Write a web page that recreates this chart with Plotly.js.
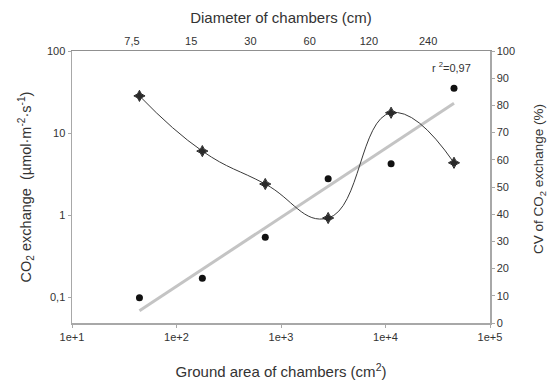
<!DOCTYPE html>
<html>
<head>
<meta charset="utf-8">
<script src="https://cdn.plot.ly/plotly-3.0.1.min.js"></script>
<style>html,body{margin:0;padding:0;background:#fff;}#chart{width:551px;height:381px;}</style>
</head>
<body>
<div id="chart"></div>
<script>
// Ground area of chambers (cm²) and matching diameters (cm)
const areas = [44.2, 176.7, 706.9, 2827, 11310, 45239];
const diameters = [7.5, 15, 30, 60, 120, 240];
const diameterLabels = ['7,5', '15', '30', '60', '120', '240'];
// CO2 exchange (µmol m-2 s-1), left log axis
const co2Exchange = [0.098, 0.169, 0.534, 2.77, 4.22, 35.1];
// CV of CO2 exchange (%), right axis
const cvExchange = [83.5, 63.2, 51.1, 38.6, 77.3, 58.9];
// Regression line end points
const trendX = [44.2, 45239];
const trendY = [0.068, 23.0];
// Axis tick labels
const xTickVals = [10, 100, 1000, 10000, 100000];
const xTickText = ['1e+1', '1e+2', '1e+3', '1e+4', '1e+5'];
const yTickVals = [0.1, 1, 10, 100];
const yTickText = ['0,1', '1', '10', '100'];
const y2TickVals = [0, 10, 20, 30, 40, 50, 60, 70, 80, 90, 100];

const font = 'Liberation Sans, Arial, sans-serif';
const txt = '#333333';
const axCol = '#a8a8a8';

const traces = [
  {x: trendX, y: trendY, xaxis: 'x', yaxis: 'y', mode: 'lines',
   line: {color: '#c4c4c4', width: 3}, hoverinfo: 'skip', showlegend: false},
  {x: areas, y: cvExchange, xaxis: 'x', yaxis: 'y2', mode: 'lines+markers',
   line: {color: '#3a3a3a', width: 1, shape: 'spline', smoothing: 1.3},
   marker: {symbol: 'star-diamond', size: 8, color: '#2a2a2a', line: {color: '#2a2a2a', width: 1}}, showlegend: false},
  {x: areas, y: co2Exchange, xaxis: 'x', yaxis: 'y', mode: 'markers',
   marker: {symbol: 'circle', size: 7, color: '#111'}, showlegend: false},
  {x: diameters, y: cvExchange, xaxis: 'x2', yaxis: 'y2', mode: 'markers',
   marker: {opacity: 0}, hoverinfo: 'skip', showlegend: false}
];

const layout = {
  width: 551, height: 381,
  margin: {l: 72, r: 61, t: 51, b: 58},
  paper_bgcolor: '#fff', plot_bgcolor: '#fff',
  font: {family: font, size: 11, color: txt},
  xaxis: {type: 'log', range: [1, 5], tickvals: xTickVals, ticktext: xTickText,
    showgrid: false, zeroline: false, showline: true, linecolor: axCol, linewidth: 1.5,
    ticks: 'outside', ticklen: 3, tickcolor: axCol,
    tickfont: {family: font, size: 11, color: txt},
    title: {text: 'Ground area of chambers (cm<sup>2</sup>)', font: {family: font, size: 15, color: txt}, standoff: 25}},
  xaxis2: {type: 'log', range: [0.570, 2.695], overlaying: 'x', side: 'top',
    tickvals: diameters, ticktext: diameterLabels,
    showgrid: false, zeroline: false, showline: true, linecolor: '#909090', linewidth: 1.5,
    ticks: '', tickfont: {family: font, size: 11, color: txt},
    title: {text: 'Diameter of chambers (cm)', font: {family: font, size: 15, color: txt}, standoff: 8}},
  yaxis: {type: 'log', range: [-1.317, 2], tickvals: yTickVals, ticktext: yTickText,
    showgrid: false, zeroline: false, showline: true, linecolor: axCol, linewidth: 1.5,
    ticks: 'outside', ticklen: 3, tickcolor: axCol,
    tickfont: {family: font, size: 11, color: txt},
    title: {text: 'CO<sub>2</sub> exchange  (µmol·m<sup>-2</sup>·s<sup>-1</sup>)', font: {family: font, size: 14.5, color: txt}, standoff: 12}},
  yaxis2: {range: [0, 100], overlaying: 'y', side: 'right', tickvals: y2TickVals,
    showgrid: false, zeroline: false, showline: true, linecolor: axCol, linewidth: 1.5,
    ticks: 'outside', ticklen: 3, tickcolor: axCol,
    tickfont: {family: font, size: 11, color: txt}},
  annotations: [
    {xref: 'paper', yref: 'paper', x: 0.96, y: 0.94, xanchor: 'right', yanchor: 'middle',
     text: 'r <sup>2</sup>=0,97', showarrow: false, font: {family: font, size: 11, color: txt}},
    {xref: 'paper', yref: 'paper', x: 1.12, y: 0.53, xanchor: 'center', yanchor: 'middle',
     textangle: -90, text: 'CV of CO<sub>2</sub> exchange (%)', showarrow: false,
     font: {family: font, size: 13.5, color: txt}}
  ]
};

Plotly.newPlot('chart', traces, layout, {displayModeBar: false, staticPlot: true});
</script>
</body>
</html>
